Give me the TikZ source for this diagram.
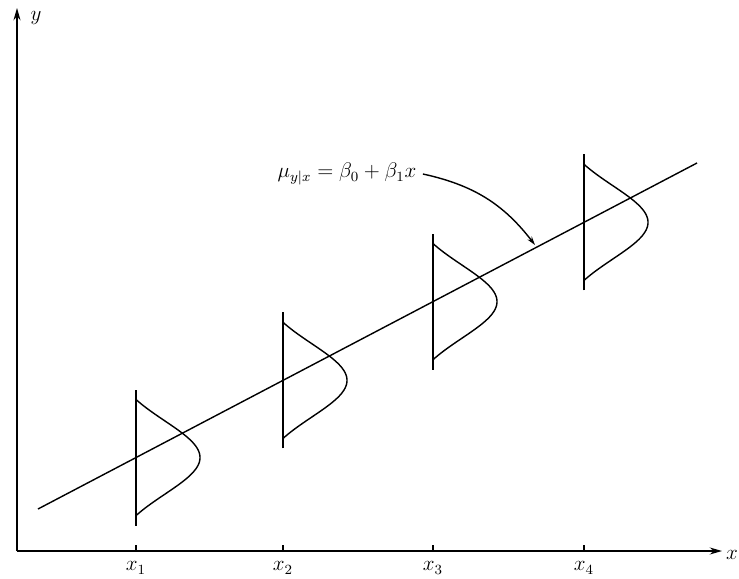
\documentclass[tikz,border=0pt]{standalone}
\usetikzlibrary{arrows.meta}

\begin{document}
\begin{tikzpicture}[x=0.02cm, y=0.02cm, line width=0.8pt,
  axis/.style={-{Stealth[length=7pt,width=4pt]}},
  pointer/.style={-{Stealth[length=5pt,width=3pt]}},
  bell/.style={smooth},
  lbl/.style={font=\large, inner sep=1pt}]
\useasboundingbox (0,0) rectangle (739,578);
% axes
\coordinate (O) at (17,27);
\coordinate (ytip) at (17,570);
\coordinate (xtip) at (722,27);
\draw[axis] (O) -- (ytip);
\draw[axis] (O) -- (xtip);
\node[lbl] (ylab) at (36,560) {$y$};
\node[lbl] (xlab) at (732,23) {$x$};
% regression line
\coordinate (lstart) at (38,69);
\coordinate (lend) at (697,415);
\draw (lstart) -- (lend);
% the four densities
\foreach \px/\lab in {136/1,283/2,433/3,584/4} {
  \pgfmathsetmacro{\my}{69+0.525*(\px-38)}
  \coordinate (m\lab) at (\px,\my);
  \draw (\px,\my-68) -- (\px,\my+68);
  \draw[bell] plot[domain=-58:58, samples=61, variable=\t]
    ({\px+64*(exp(-(\t)^2/2700)-0.2868)/0.7132}, {\my+\t});
  \draw (\px,27) -- (\px,33);
  \node[lbl] (x\lab) at (\px,10) {$x_\lab$};
}
% label of the line
\node[font=\large] (eq) at (347,404) {$\mu_{y|x}=\beta_0+\beta_1 x$};
\coordinate (hit) at (535,333);
\draw[pointer] (eq.east) to[bend left=20] (hit);
\end{tikzpicture}
\end{document}
